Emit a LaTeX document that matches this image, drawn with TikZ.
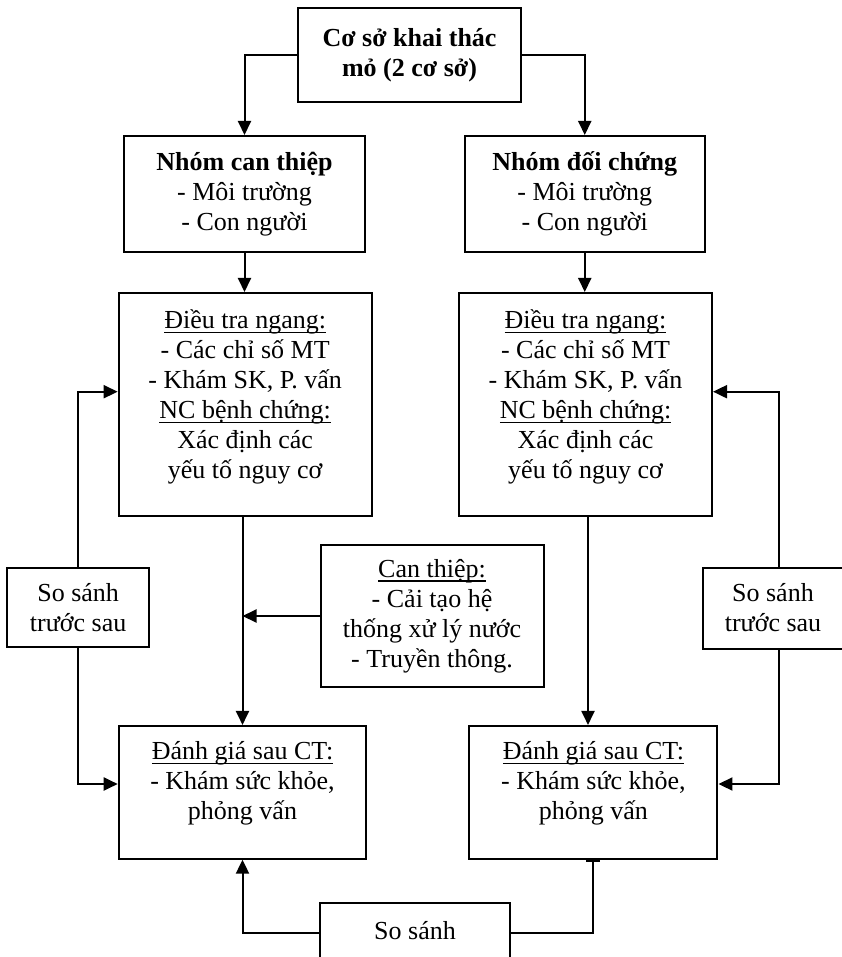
\documentclass[tikz,border=0pt]{standalone}
\usepackage{fontspec}
\setmainfont{Liberation Serif}
\usetikzlibrary{arrows.meta,calc}
\newcommand\myul[1]{\setbox0\hbox{#1}\rlap{\rule[-4.5pt]{\wd0}{1.4pt}}\box0}
\begin{document}
\begin{tikzpicture}[x=1pt,y=-1pt,
  box/.style={draw,line width=2pt,rectangle,inner sep=0pt},
  txt/.style={align=center,inner sep=0pt,font=\fontsize{26}{30}\selectfont},
  arr/.style={line width=2pt,-{Triangle[length=14pt,width=13pt]}},
  ln/.style={line width=2pt}]
\clip (0,0) rectangle (842,957);
% boxes
\node[box,txt,minimum width=223pt,minimum height=94pt] (top) at (409.5,55) {\textbf{Cơ sở khai thác}\\\textbf{mỏ (2 cơ sở)}};
\node[box,txt,minimum width=241pt,minimum height=116pt] (g1) at (244.5,194) {\textbf{Nhóm can thiệp}\\- Môi trường\\- Con người};
\node[box,txt,minimum width=240.5pt,minimum height=116pt] (g2) at (584.75,194) {\textbf{Nhóm đối chứng}\\- Môi trường\\- Con người};
\node[box,minimum width=253pt,minimum height=223pt] (s1) at (245.15,404.5) {};
\node[box,minimum width=253pt,minimum height=223pt] (s2) at (585.5,404.5) {};
\node[txt] (s1t) at ([yshift=7.5pt]s1.center) {\myul{Điều tra ngang:}\\- Các chỉ số MT\\- Khám SK, P. vấn\\\myul{NC bệnh chứng:}\\Xác định các\\yếu tố nguy cơ};
\node[txt] (s2t) at ([yshift=7.5pt]s2.center) {\myul{Điều tra ngang:}\\- Các chỉ số MT\\- Khám SK, P. vấn\\\myul{NC bệnh chứng:}\\Xác định các\\yếu tố nguy cơ};
\node[box,txt,minimum width=223pt,minimum height=142pt] (ct) at (432,616) {\myul{Can thiệp:}\\- Cải tạo hệ\\thống xử lý nước\\- Truyền thông.};
\node[box,txt,minimum width=142.3pt,minimum height=79.3pt] (c1) at (78.15,607.65) {So sánh\\trước sau};
\node[box,minimum width=152pt,minimum height=81pt] (c2) at (779,608.8) {};
\node[txt] (c2t) at (773,607.5) {So sánh\\trước sau};
\node[box,minimum width=247.6pt,minimum height=132.7pt] (e1) at (242.5,792.3) {};
\node[box,minimum width=248pt,minimum height=132.7pt] (e2) at (593.45,792.3) {};
\node[txt] (e1t) at ([yshift=9pt]e1.center) {\myul{Đánh giá sau CT:}\\- Khám sức khỏe,\\phỏng vấn};
\node[txt] (e2t) at ([yshift=9pt]e2.center) {\myul{Đánh giá sau CT:}\\- Khám sức khỏe,\\phỏng vấn};
\node[box,minimum width=190pt,minimum height=87pt] (cb) at (415,946.6) {};
\node[txt] (cbt) at (415,931) {So sánh};
% connectors
\draw[arr] (top.west) -| (g1.north);
\draw[arr] (top.east) -| (g2.north);
\draw[arr] (g1.south) -- (g1.south |- s1.north);
\draw[arr] (g2.south) -- (g2.south |- s2.north);
\draw[arr] (e1.north |- s1.south) -- (e1.north);
\draw[arr] ([xshift=2.5pt]s2.south) -- ([xshift=2.5pt]s2.south |- e2.north);
\draw[arr] (ct.west) -- (ct.west -| e1.north);
\draw[arr] (c1.north) |- ([yshift=12.8pt]s1.west);
\draw[arr] (c1.south) |- ([yshift=8.3pt]e1.west);
\draw[arr] (c2.north) |- ([yshift=12.8pt]s2.east);
\draw[arr] (c2.south) |- ([yshift=8.3pt]e2.east);
\draw[arr] ([yshift=13.9pt]cb.west) -| (e1.south);
\draw[ln,-{Bar[width=14pt]}] ([yshift=13.9pt]cb.east) -| (e2.south);
\end{tikzpicture}
\end{document}
